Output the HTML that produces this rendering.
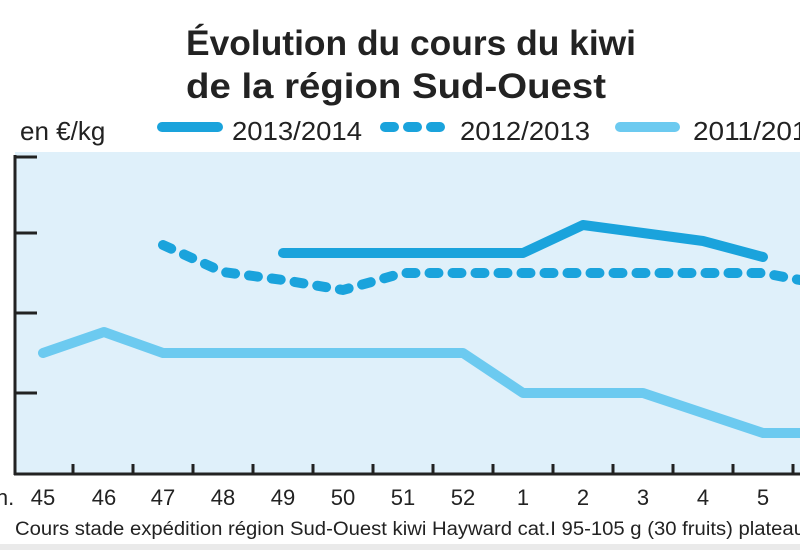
<!DOCTYPE html>
<html><head><meta charset="utf-8"><style>
body{margin:0;background:#fff;}
svg{display:block;font-family:"Liberation Sans",sans-serif;}
</style></head><body>
<svg width="800" height="550" viewBox="0 0 800 550">
<rect width="800" height="550" fill="#fff"/>
<text x="186" y="55" font-size="35" font-weight="bold" fill="#222" textLength="450" lengthAdjust="spacingAndGlyphs">Évolution du cours du kiwi</text>
<text x="186" y="98" font-size="35" font-weight="bold" fill="#222" textLength="420" lengthAdjust="spacingAndGlyphs">de la région Sud-Ouest</text>
<text x="20" y="140" font-size="26" fill="#222">en €/kg</text>
<line x1="162" y1="127" x2="218" y2="127" stroke="#1aa3dc" stroke-width="10" stroke-linecap="round"/>
<text x="232" y="140" font-size="26" fill="#222" textLength="130" lengthAdjust="spacingAndGlyphs">2013/2014</text>
<line x1="385" y1="127" x2="440" y2="127" stroke="#1aa3dc" stroke-width="10" stroke-linecap="round" stroke-dasharray="9 14"/>
<text x="460" y="140" font-size="26" fill="#222" textLength="130" lengthAdjust="spacingAndGlyphs">2012/2013</text>
<line x1="620" y1="127" x2="675" y2="127" stroke="#6ccaf0" stroke-width="10" stroke-linecap="round"/>
<text x="693" y="140" font-size="26" fill="#222" textLength="130" lengthAdjust="spacingAndGlyphs">2011/2012</text>
<rect x="15" y="152" width="785" height="322" fill="#dff0fa"/>
<g stroke="#222" stroke-width="3">
<line x1="15" y1="155" x2="15" y2="475"/>
<line x1="14" y1="474" x2="800" y2="474"/>
<line x1="15" y1="157" x2="37" y2="157"/>
<line x1="15" y1="233" x2="37" y2="233"/>
<line x1="15" y1="313" x2="37" y2="313"/>
<line x1="15" y1="393" x2="37" y2="393"/>
<path d="M73 474v-10M133 474v-10M193 474v-10M253 474v-10M313 474v-10M373 474v-10M433 474v-10M493 474v-10M553 474v-10M613 474v-10M673 474v-10M733 474v-10M793 474v-10"/>
</g>
<g font-size="22" fill="#222" text-anchor="middle">
<text x="5" y="505">n.</text>
<text x="43" y="505">45</text><text x="104" y="505">46</text><text x="163" y="505">47</text><text x="223" y="505">48</text><text x="283" y="505">49</text><text x="343" y="505">50</text><text x="403" y="505">51</text><text x="463" y="505">52</text><text x="523" y="505">1</text><text x="583" y="505">2</text><text x="643" y="505">3</text><text x="703" y="505">4</text><text x="763" y="505">5</text>
</g>
<text x="15" y="535" font-size="19" fill="#222" textLength="790" lengthAdjust="spacingAndGlyphs">Cours stade expédition région Sud-Ouest kiwi Hayward cat.I 95-105 g (30 fruits) plateau</text>
<polyline points="43,353 104,332 163,353 463,353 523,393 643,393 763,433 800,433" fill="none" stroke="#6ccaf0" stroke-width="10" stroke-linejoin="round" stroke-linecap="round"/>
<polyline points="163,245 223,272 283,280 343,290 403,273 763,273 800,280" fill="none" stroke="#1aa3dc" stroke-width="10" stroke-linejoin="round" stroke-linecap="round" stroke-dasharray="9 14"/>
<polyline points="283,253 523,253 583,225 643,233 703,241 763,257" fill="none" stroke="#1aa3dc" stroke-width="10" stroke-linejoin="round" stroke-linecap="round"/>
<rect x="0" y="544" width="800" height="6" fill="#eaeaea"/>
</svg>
</body></html>
